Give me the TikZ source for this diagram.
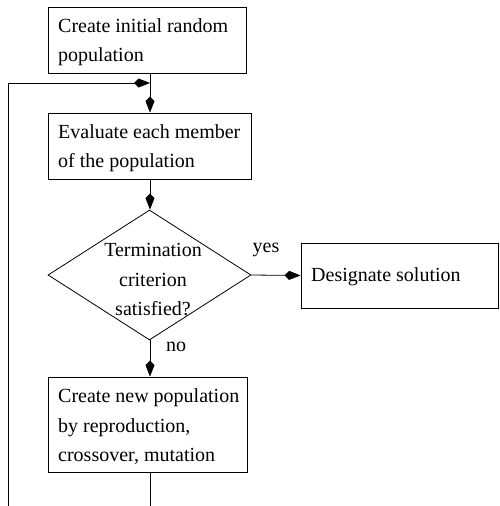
\documentclass[tikz,border=0pt]{standalone}
\usepackage{fontspec}
\setmainfont{Liberation Serif}
\usetikzlibrary{shapes.geometric,arrows.meta}
\begin{document}
\begin{tikzpicture}[x=1pt,y=-1pt,
  box/.style={draw, line width=0.8pt, inner sep=0pt},
  txt/.style={font=\fontsize{20}{29.5}\selectfont, align=left, inner sep=0pt},
  ctxt/.style={font=\fontsize{20}{29.5}\selectfont, align=center, inner sep=0pt},
  conn/.style={line width=0.8pt},
  arr/.style={conn, -{Kite[length=16pt,width=9pt,inset=4.5pt]}}
]
\useasboundingbox (0,0) rectangle (499,506);
% boxes
\node[box, minimum width=198pt, minimum height=66pt] (b1) at (147,40) {};
\node[txt, anchor=west] (t1) at (58,42) {Create initial random\\population};
\node[box, minimum width=203pt, minimum height=66pt] (b2) at (149.5,146) {};
\node[txt, anchor=west] (t2) at (58,148) {Evaluate each member\\of the population};
\node[box, diamond, minimum width=203pt, minimum height=130pt] (d) at (149.5,275) {};
\node[ctxt] (td) at (153,280) {Termination\\criterion\\satisfied?};
\node[box, minimum width=197pt, minimum height=65pt] (b3) at (399.5,275.5) {};
\node[txt, anchor=west] (t3) at (311,277) {Designate solution};
\node[box, minimum width=199pt, minimum height=95pt] (b4) at (147.5,424.5) {};
\node[txt, anchor=west] (t4) at (58,427) {Create new population\\by reproduction,\\crossover, mutation};
% labels
\node[ctxt] (yes) at (266,250) {yes};
\node[ctxt] (no) at (176,347) {no};
% coordinates
\coordinate (join) at (150,83);
\coordinate (fbstart) at (8,506);
\coordinate (spineend) at (150,506);
% connectors
\draw[conn] (join |- b1.south) -- (join);
\draw[arr] (join) -- (join |- b2.north);
\draw[arr] (fbstart) |- (join);
\draw[arr] (join |- b2.south) -- (join |- d.north);
\draw[arr] (d.east) -- (b3.west);
\draw[arr] (join |- d.south) -- (join |- b4.north);
\draw[conn] (join |- b4.south) -- (spineend);
\end{tikzpicture}
\end{document}
